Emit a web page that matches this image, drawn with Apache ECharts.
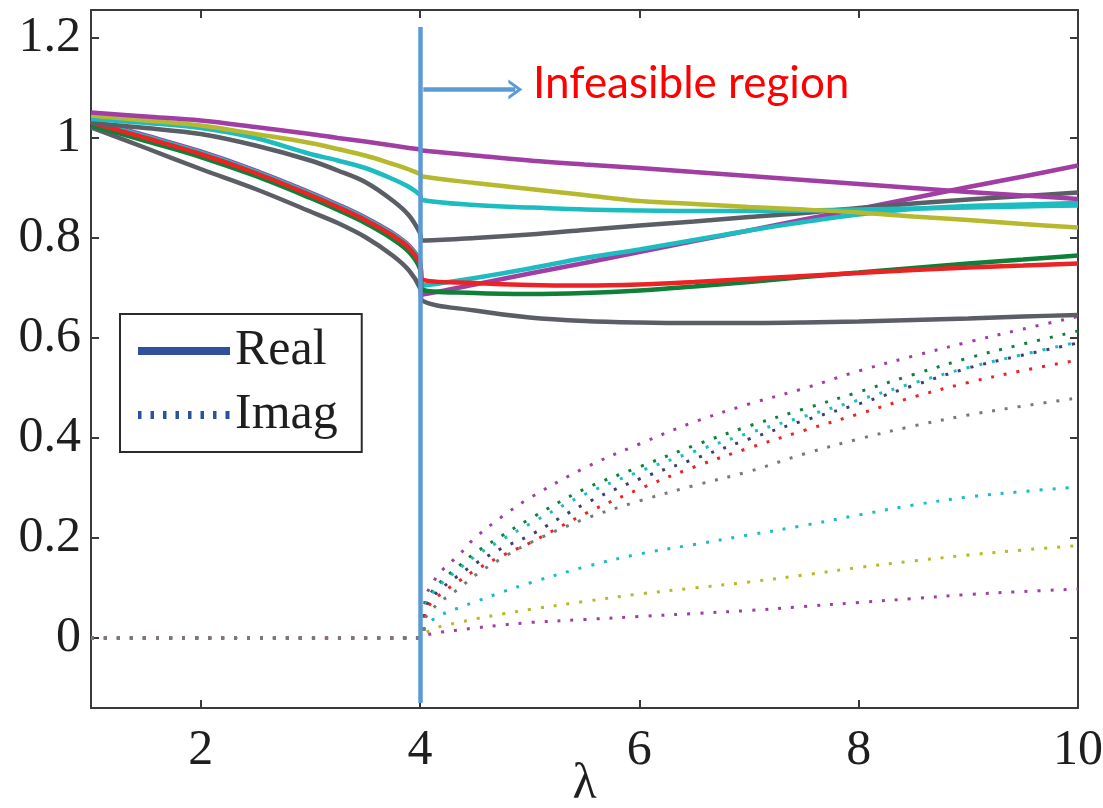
<!DOCTYPE html>
<html><head><meta charset="utf-8">
<script src="https://cdn.jsdelivr.net/npm/echarts@6/dist/echarts.min.js"></script>
<style>html,body{margin:0;padding:0;background:#fff}#c{width:1103px;height:808px}</style>
</head><body><div id="c"></div>
<script>
// ---- data ----
const X_REAL = [1, 1.5, 2, 2.5, 3, 3.25, 3.5, 3.75, 3.9, 4.0, 4.02, 4.5, 5, 5.5, 6, 6.5, 7, 7.5, 8, 8.5, 9, 9.5, 10];
const realPurpleFall = [1.051, 1.043, 1.035, 1.022, 1.008, 1.0, 0.993, 0.985, 0.98, 0.977, 0.975, 0.965, 0.955, 0.947, 0.94, 0.932, 0.924, 0.916, 0.908, 0.9, 0.892, 0.885, 0.878];
const realOlive = [1.045, 1.035, 1.025, 1.008, 0.99, 0.978, 0.965, 0.948, 0.937, 0.928, 0.923, 0.91, 0.898, 0.886, 0.874, 0.868, 0.862, 0.857, 0.851, 0.843, 0.836, 0.828, 0.821];
const realCyanFlat = [1.038, 1.03, 1.02, 1.0, 0.968, 0.955, 0.94, 0.918, 0.902, 0.886, 0.876, 0.866, 0.861, 0.857, 0.855, 0.854, 0.854, 0.855, 0.857, 0.859, 0.861, 0.863, 0.865];
const realGrayUpper = [1.03, 1.02, 1.008, 0.985, 0.955, 0.935, 0.912, 0.875, 0.845, 0.81, 0.795, 0.8, 0.807, 0.816, 0.825, 0.833, 0.842, 0.85, 0.86, 0.869, 0.877, 0.884, 0.891];
const realRed = [1.031, 1.0, 0.968, 0.93, 0.886, 0.862, 0.836, 0.805, 0.78, 0.748, 0.717, 0.71, 0.706, 0.705, 0.707, 0.712, 0.718, 0.724, 0.73, 0.736, 0.741, 0.745, 0.749];
const realGreen = [1.025, 0.994, 0.962, 0.924, 0.88, 0.856, 0.83, 0.798, 0.772, 0.738, 0.697, 0.69, 0.688, 0.69, 0.695, 0.703, 0.712, 0.722, 0.731, 0.74, 0.749, 0.757, 0.765];
const realPurpleRise = [1.036, 1.005, 0.973, 0.935, 0.891, 0.867, 0.841, 0.81, 0.785, 0.752, 0.687, 0.707, 0.729, 0.75, 0.772, 0.794, 0.815, 0.837, 0.858, 0.88, 0.902, 0.923, 0.945];
const realCyanRise = [1.034, 1.003, 0.971, 0.933, 0.889, 0.865, 0.839, 0.808, 0.783, 0.751, 0.705, 0.72, 0.739, 0.76, 0.777, 0.796, 0.815, 0.832, 0.847, 0.858, 0.864, 0.867, 0.87];
const realGrayLower = [1.021, 0.98, 0.938, 0.898, 0.853, 0.83, 0.802, 0.765, 0.735, 0.7, 0.675, 0.655, 0.641, 0.634, 0.631, 0.63, 0.63, 0.631, 0.633, 0.636, 0.639, 0.643, 0.646];

const X_IMAG = [1, 2, 3, 4, 4.05, 4.1, 4.2, 4.35, 4.5, 4.75, 5, 5.5, 6, 6.5, 7, 7.5, 8, 8.5, 9, 9.5, 10];
const imagPurpleTop = [0, 0, 0, 0, 0.08, 0.105, 0.135, 0.165, 0.2, 0.243, 0.28, 0.34, 0.388, 0.432, 0.468, 0.499, 0.534, 0.564, 0.592, 0.618, 0.643];
const imagGreen = [0, 0, 0, 0, 0.068, 0.09, 0.115, 0.143, 0.17, 0.205, 0.238, 0.298, 0.342, 0.385, 0.424, 0.458, 0.492, 0.527, 0.56, 0.588, 0.614];
const imagCyanUpper = [0, 0, 0, 0, 0.064, 0.085, 0.11, 0.137, 0.163, 0.197, 0.228, 0.287, 0.333, 0.373, 0.41, 0.443, 0.476, 0.51, 0.541, 0.567, 0.592];
const imagNavy = [0, 0, 0, 0, 0.058, 0.078, 0.1, 0.125, 0.148, 0.18, 0.205, 0.268, 0.318, 0.358, 0.398, 0.435, 0.468, 0.505, 0.54, 0.566, 0.59];
const imagRed = [0, 0, 0, 0, 0.052, 0.07, 0.09, 0.113, 0.135, 0.165, 0.19, 0.248, 0.298, 0.342, 0.38, 0.415, 0.448, 0.482, 0.511, 0.535, 0.556];
const imagGray = [0, 0, 0, 0, 0.04, 0.055, 0.075, 0.098, 0.125, 0.16, 0.19, 0.238, 0.274, 0.305, 0.333, 0.368, 0.398, 0.424, 0.446, 0.464, 0.48];
const imagCyanLower = [0, 0, 0, 0, 0.022, 0.034, 0.047, 0.06, 0.072, 0.092, 0.11, 0.142, 0.168, 0.187, 0.206, 0.225, 0.246, 0.266, 0.282, 0.293, 0.302];
const imagOlive = [0, 0, 0, 0, 0.01, 0.016, 0.024, 0.031, 0.038, 0.048, 0.057, 0.073, 0.088, 0.1, 0.112, 0.126, 0.141, 0.154, 0.166, 0.176, 0.185];
const imagPurpleLower = [0, 0, 0, 0, 0.005, 0.008, 0.012, 0.016, 0.02, 0.026, 0.031, 0.037, 0.043, 0.049, 0.055, 0.063, 0.071, 0.079, 0.087, 0.093, 0.098];

const X_TICKS = [2, 4, 6, 8, 10];
const Y_TICKS = [0, 0.2, 0.4, 0.6, 0.8, 1, 1.2];
const FEASIBILITY_LIMIT = 4;
const ANNOTATION_TEXT = 'Infeasible region';
const LEGEND_NAMES = ['Real', 'Imag'];

// ---- styling ----
const C = {
  purple: '#a13ea3', olive: '#b6b92d', cyan: '#1dbcc0', gray: '#5c5e66',
  red: '#ec2224', green: '#0e8038', navy: '#3b4074', grayDot: '#7a7a72',
  blue: '#5b9bd5', legendBlue: '#2f4f9f', axis: '#3a3a3a', text: '#1e1e1e'
};
const SERIF = '"Liberation Serif","DejaVu Serif",serif';
const pairs = (xs, ys) => xs.map((x, i) => [x, ys[i]]);

const realDefs = [
  [realGrayLower, C.gray], [realPurpleRise, C.purple], [realCyanRise, C.cyan],
  [realGreen, C.green], [realRed, C.red], [realGrayUpper, C.gray],
  [realCyanFlat, C.cyan], [realOlive, C.olive], [realPurpleFall, C.purple]
];
const imagDefs = [
  [imagPurpleTop, C.purple], [imagGreen, C.green], [imagCyanUpper, C.cyan],
  [imagNavy, C.navy], [imagRed, C.red],
  [imagCyanLower, C.cyan], [imagOlive, C.olive], [imagPurpleLower, C.purple], [imagGray, C.grayDot]
];

const series = [];
realDefs.forEach(([ys, col]) => series.push({
  type: 'line', data: pairs(X_REAL, ys), symbol: 'none', smooth: 0.35,
  silent: true, lineStyle: { color: col, width: 4.5 }, z: 3
}));
imagDefs.forEach(([ys, col]) => series.push({
  type: 'line', data: pairs(X_IMAG, ys), symbol: 'none', smooth: 0.35,
  silent: true, lineStyle: { color: col, width: 3, type: [3, 10], cap: 'butt' }, z: 2
}));
// legend proxies
series.push({ name: LEGEND_NAMES[0], type: 'line', data: [], symbol: 'none', itemStyle: { color: C.legendBlue }, lineStyle: { color: C.legendBlue, width: 8 } });
series.push({ name: LEGEND_NAMES[1], type: 'line', data: [], symbol: 'none', itemStyle: { color: C.legendBlue }, lineStyle: { color: C.legendBlue, width: 4, type: [4, 9] } });
// boundary line + arrow
series.push({
  type: 'line', data: [], symbol: 'none', silent: true, z: 6,
  markLine: {
    silent: true, animation: false, label: { show: false },
    lineStyle: { color: C.blue, width: 4.5, type: 'solid', opacity: 1 },
    emphasis: { disabled: true },
    data: [
      [{ coord: [FEASIBILITY_LIMIT, 1.222], symbol: 'none' }, { coord: [FEASIBILITY_LIMIT, -0.13], symbol: 'none' }],
      [{ coord: [4.03, 1.097], symbol: 'none' },
       { coord: [4.87, 1.097], symbol: 'path://M0,10 L5,0 L10,10 L8.2,10 L5,3.6 L1.8,10 Z', symbolSize: [20, 14] }]
    ]
  }
});

// legend icons
const realIcon = 'path://M0,0H92V8H0Z';
let dots = '';
for (let i = 0; i < 8; i++) { const x = i * 12.5; dots += 'M' + x + ',0h3.5v8h-3.5z'; }
const imagIcon = 'path://' + dots + 'M91.5,0h0.5v8h-0.5z';

const axisCommon = {
  type: 'value',
  axisLine: { show: true, onZero: false, lineStyle: { color: C.axis, width: 2 } },
  axisTick: { show: true, inside: true, length: 8, lineStyle: { color: C.axis, width: 2 } },
  splitLine: { show: false }
};
const near = (v, arr) => arr.some(t => Math.abs(t - v) < 1e-6);

const option = {
  animation: false,
  backgroundColor: '#fff',
  grid: { left: 91, right: 25, top: 10, bottom: 100, containLabel: false, outerBoundsMode: 'none' },
  title: {
    text: ANNOTATION_TEXT, left: 533, top: 62, padding: 0,
    textStyle: { color: '#ff0000', fontFamily: 'Lato', fontSize: 44, fontWeight: 'normal' }
  },
  legend: {
    orient: 'vertical', left: 120, top: 314, padding: [12, 24, 12, 18],
    itemGap: 14, itemWidth: 92, itemHeight: 8, selectedMode: false,
    borderColor: '#2b2b2b', borderWidth: 2, backgroundColor: '#fff',
    textStyle: { fontFamily: SERIF, fontSize: 50, color: C.text },
    data: [
      { name: LEGEND_NAMES[0], icon: realIcon },
      { name: LEGEND_NAMES[1], icon: imagIcon }
    ]
  },
  xAxis: [
    Object.assign({}, axisCommon, {
      min: 1, max: 10, splitNumber: 5, position: 'bottom',
      axisLabel: { fontFamily: SERIF, fontSize: 50, color: C.text, margin: 18,
        formatter: v => near(v, X_TICKS) ? String(v) : '' },
      name: 'λ', nameLocation: 'middle', nameGap: 52, nameMoveOverlap: false,
      nameTextStyle: { fontFamily: SERIF, fontSize: 50, color: C.text, verticalAlign: 'top' }
    }),
    Object.assign({}, axisCommon, {
      min: 1, max: 10, splitNumber: 5, position: 'top', axisLabel: { show: false }
    })
  ],
  yAxis: [
    Object.assign({}, axisCommon, {
      min: -0.14, max: 1.256, splitNumber: 7, position: 'left',
      axisLabel: { fontFamily: SERIF, fontSize: 50, color: C.text, margin: 10,
        formatter: v => near(v, Y_TICKS) ? String(+v.toFixed(1)) : '' }
    }),
    Object.assign({}, axisCommon, {
      min: -0.14, max: 1.256, splitNumber: 7, position: 'right', axisLabel: { show: false }
    })
  ],
  series: series
};
const chart = echarts.init(document.getElementById('c'));
chart.setOption(option);
</script>
</body></html>
